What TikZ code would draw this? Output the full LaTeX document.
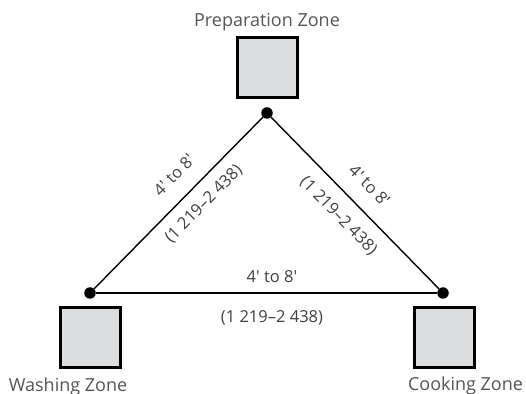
\documentclass[tikz,border=0pt]{standalone}
\usepackage{fontspec}
\setmainfont{Open Sans}
\definecolor{zonefill}{HTML}{DCDDDF}
\definecolor{labelgray}{HTML}{555555}
\newcommand{\feet}{\textquotesingle}

\begin{document}
\begin{tikzpicture}[
    x=1pt, y=1pt,
    corner/.style={circle, fill=black, inner sep=0pt, minimum size=11.5pt},
    zone/.style={rectangle, draw=black, line width=3pt, fill=zonefill, minimum size=60pt},
    zonelabel/.style={inner sep=0pt, anchor=base, text=labelgray, font=\fontsize{18}{20}\selectfont},
    distlabel/.style={inner sep=0pt, text=black!75, font=\fontsize{16.5}{18}\selectfont},
    side/.style={line width=1.4pt}
]
\useasboundingbox (0,0) rectangle (526,393);

% zones
\node[zone] (prep) at (267,325.5) {};
\node[zone] (wash) at (90.5,55.5) {};
\node[zone] (cook) at (444,55.5) {};
\node[zonelabel] (preplabel) at (267,366) {Preparation Zone};
\node[zonelabel] (washlabel) at (68,2) {Washing Zone};
\node[zonelabel] (cooklabel) at (465.5,3) {Cooking Zone};

% corners of the triangle
\node[corner] (p) at (267,280) {};
\node[corner] (w) at (90,100) {};
\node[corner] (c) at (443,100) {};

% sides
\draw[side] (w) -- node[distlabel, sloped, pos=0.57, above=16pt] {4\feet{} to 8\feet}
    node[distlabel, sloped, pos=0.57, below=11pt] {(1 219–2 438)} (p);
\draw[side] (p) -- node[distlabel, sloped, pos=0.49, above=16pt] {4\feet{} to 8\feet}
    node[distlabel, sloped, pos=0.49, below=13pt] {(1 219–2 438)} (c);
\draw[side] (w) -- node[distlabel, pos=0.516, above=10pt] {4\feet{} to 8\feet}
    node[distlabel, pos=0.516, below=17pt] {(1 219–2 438)} (c);

\end{tikzpicture}
\end{document}
